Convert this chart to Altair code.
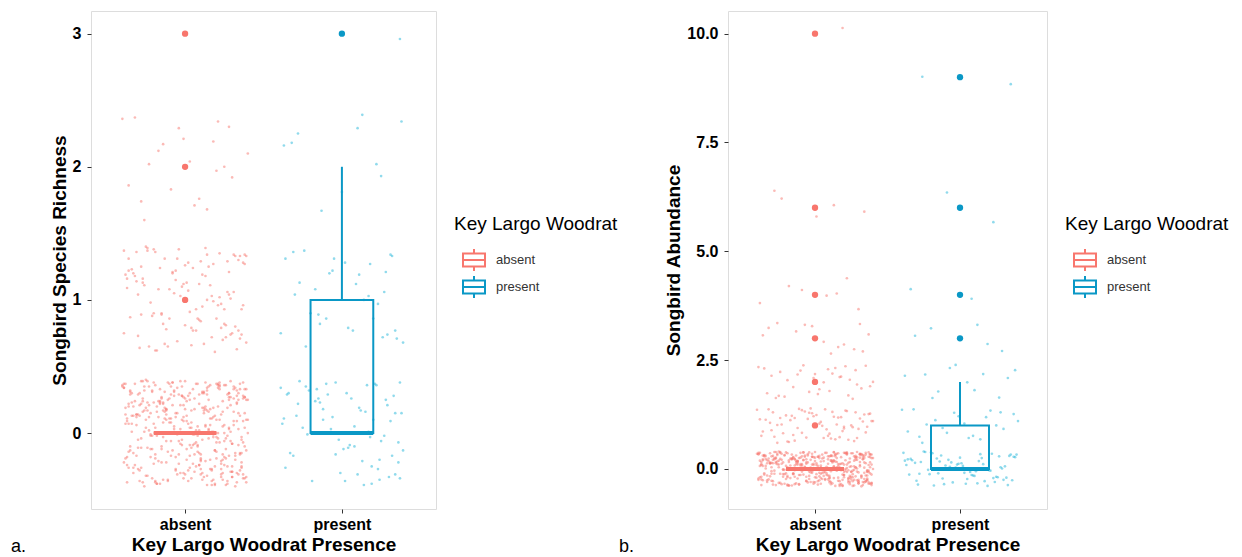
import altair as alt
import numpy as np
import pandas as pd

GROUPS = ["absent", "present"]
BOX_COLORS = ["#F8766D", "#0A98C6"]
POINT_COLORS = ["#F8766D", "#22B5DA"]
LEGEND_TITLE = "Key Largo Woodrat"

# Panel a: songbird species richness (value -> number of sites)
rich_values_absent = [0, 1, 2, 3]
rich_counts_absent = [430, 120, 22, 1]
rich_values_present = [0, 1, 2, 3]
rich_counts_present = [72, 34, 10, 1]

# Panel b: songbird abundance (value -> number of sites)
abund_values_absent = [0, 1, 2, 3, 4, 6, 10]
abund_counts_absent = [430, 72, 35, 14, 7, 5, 1]
abund_values_present = [0, 1, 2, 3, 4, 6, 9]
abund_counts_present = [72, 22, 12, 5, 2, 2, 2]

x_tick_labels = ["absent", "present"]
rich_ticks = [0, 1, 2, 3]
abund_ticks = [0, 2.5, 5, 7.5, 10]

# jitter offsets read as hundredths of a unit (±0.4 in x and y)
JX = [
    -31, 12, 38, -7, 25, -19, 3, -36, 17, 29, -24, 8, -2, 33, -13, 21, -38, 5, 14, -28,
    36, -10, -33, 19, 1, -22, 27, 10, -39, -5, 31, -16, 23, -27, 7, 39, -11, 16, -35, 0,
    -20, 26, -3, 34, -30, 13, -15, 22, 4, -37, 18, -8, 30, -25, 9, -1, 37, -18, 28, -12,
    11, -34, 24, -6, 35, -21, 2, -29, 15, 32, -14, 20, -40, 6, -23, 28, -9, 40, -26, 18,
    -4, 30, -17, 9, -32, 25, 14, -1, -36, 21, 3, -28, 37, -12, 16, -19, 33, -7, 10, -38,
    27, -24, 5, 38, -15, -3, 19, -31, 12, 29, -20, 8, -34, 23, -9, 35, -26, 1, 17, -11,
    39, -6, 22, -30, 13, -18, 31, -2, 26, -37, 7, 15, -22, 34, -14, 4, -29, 20, -5, 11,
    -16, 36, -27, 0, 24, -35, 10, 18, -8, 32, -21, 28, -1, -33, 14, 38, -12, 6, -25, 21,
    3, -39, 17, 29, -10, 23, -19, 35, -4, 12, -30, 26, 9, -15, 40, -24, 2, 31, -36, 16,
    -7, 20, -32, 11, 37, -13, 27, -26, 6, -2, 33, -18, 15, -38, 22, 8, -9, 30, -23, 13,
    34, -28, 1, 19, -11, 39, -34, 24, -5, 10, -20, 28, -35, 4, 17, -14, 36, -1, 25, -31,
    -12, 7, 31, -21, 14, -37, 22, 0, -16, 38, -8, 26, -29, 12, 33, -4, 18, -25, 9, 35,
    -33, 16, -3, 27, -18, 5, 37, -27, 20, -10, 29, -39, 13, 2, -22, 32, -6, 23, -14, 40,
    8, -24, 30, -36, 18, -1, 11, -30, 35, -17, 24, -9, 39, -26, 6, -13, 28, -32, 15, -3,
    21, -15, 36, -8, 3, -23, 32, 14, -34, 25, -19, 9, -28, 37, -11, 19, -38, 1, 30, -21,
    -27, 38, -12, 22, -40, 10, 27, -5, 16, -30, 34, -16, 6, -25, 23, 13, -2, 31, -19, 4,
    26, -35, 9, -14, 33, -3, 20, -22, 39, -9, 12, -33, 28, 0, -18, 36, -29, 17, -7, 24,
    -2, 15, -26, 35, -13, 29, -37, 7, 21, -11, 38, -20, 3, 30, -31, 11, -24, 25, -6, 33,
    13, -29, 37, -4, 18, -17, 4, -39, 31, 24, -12, 17, -36, 22, -1, 34, -15, 8, -27, 19,
    -38, 23, -9, 11, 30, -25, 16, 36, -6, -21, 5, 32, -14, 27, -34, 2, 20, -10, 39, -18,
    6, -31, 25, -16, 38, 14, -28, 1, 33, -7, 19, -23, 10, -37, 29, -2, 24, -35, 12, 37,
    -22, 3, 34, -12, 21, -33, 8, 28, -19, 15, -4, 36, -27, 18, 7, -30, 31, -15, 26, -8,
    32, -20, 11, -39, 27, 2, -14, 23, -31, 39, -6, 9, 20, -24, 35, -17, 4, -36, 14, 29,
    -10, 28, -23, 17, -5, 34, -37, 13, 25, -28, 0, 38, -13, 22, -32, 10, 37, -19, 5, -26,
]
JY = [
    14, -33, 27, 5, -18, 36, -9, 22, -28, 1, 39, -14, 10, -37, 31, -4, 19, -23, 34, -11,
    -26, 8, 20, -39, 13, -2, 29, -16, 37, -31, 6, 24, -21, 16, -7, 33, -35, 11, -13, 26,
    38, -19, 3, 30, -27, 18, -10, 35, -34, 9, -1, 21, -25, 40, -15, 12, 28, -38, 4, -22,
    -5, 23, -30, 15, 33, -12, 7, -36, 25, -20, 17, -3, 36, -29, 2, 30, -17, 10, -40, 19,
    29, -8, 12, -24, 37, 0, -32, 21, -14, 34, 4, -26, 26, -6, 18, -37, 9, 32, -19, 14,
    -36, 17, -1, 27, -22, 39, -13, 6, 31, -29, 23, -9, 13, -33, 35, -16, 1, 24, -27, 38,
    10, -28, 33, -11, 20, -38, 16, 28, -4, -24, 37, 2, -18, 25, -35, 8, 30, -7, 15, -30,
    22, -3, -37, 18, 5, 31, -21, 12, 38, -15, -34, 27, 9, -26, 32, -10, 17, -1, -32, 36,
    -17, 34, 11, -6, 26, -31, 4, 37, -23, 19, 14, -39, 29, -12, 0, 23, -28, 33, 7, -20,
    31, -14, 24, -35, 9, 16, -25, 35, -8, 28, -30, 20, 3, -19, 38, -2, 11, -33, 21, 6,
    -9, 39, -20, 13, -36, 25, 1, -16, 34, -27, 7, 30, -10, 17, -39, 22, -5, 27, -24, 12,
    18, -25, 35, -2, 29, -18, 10, -31, 23, 4, -13, 36, -28, 15, 32, -6, -35, 19, 2, -15,
    -30, 6, 21, -38, 16, 33, -7, 26, -19, 11, 39, -22, 5, 28, -12, 34, -27, 14, -3, 25,
    37, -11, -29, 20, 1, -34, 30, -5, 13, -21, 24, 8, -37, 32, -16, 19, 3, -24, 35, -8,
    0, 27, -15, 38, -26, 12, -40, 17, 7, 36, -19, 22, -4, -31, 25, -13, 37, 9, -29, 31,
    24, -34, 14, -7, 35, -20, 19, -1, -27, 29, 3, -38, 18, 10, -23, 38, -9, 26, -16, 4,
    -12, 32, -24, 8, 23, -30, 37, 15, -33, -6, 30, 13, -17, 39, -2, -25, 21, -36, 28, 16,
    35, -4, 17, -28, 11, 27, -37, 2, 20, -14, 33, -23, 25, -8, 14, 31, -32, 6, -18, 22,
    -21, 13, 38, -16, -3, 24, -11, 34, 9, -35, 18, 1, -26, 36, -30, 15, 26, -10, 39, -38,
    7, -27, 29, 19, -33, 4, 36, -22, 12, 32, -9, -17, 23, -2, 30, -36, 10, 37, -13, 0,
    26, -17, -6, 33, 15, -39, 22, -12, 28, 3, -25, 35, -31, 11, 21, -5, -20, 29, 17, -34,
    -1, 30, -31, 10, 37, -15, 5, 25, -36, 16, 38, -7, 13, 27, -23, 4, 34, -11, -28, 20,
    33, -10, 19, -25, 6, 28, -18, -3, 36, -32, 22, 12, -14, 37, -29, 8, -21, 31, 0, -26,
    -14, 21, -35, 3, 31, -23, 16, 39, -7, 25, -19, 34, -33, 2, 18, 29, -4, -38, 24, 11,
]

FONT = "Liberation Sans"
BOX_GLYPH = "M-1,-0.6L1,-0.6L1,0.6L-1,0.6Z M-1,0L1,0 M0,-0.6L0,-1 M0,0.6L0,1"


def build_legend(lx):
    """Legend drawn as marks: title, box-plot glyphs and labels."""
    layers = [
        alt.Chart(pd.DataFrame({"t": [LEGEND_TITLE]})).mark_text(
            align="left", baseline="middle", fontSize=19, font=FONT, color="black"
        ).encode(text="t:N", x=alt.value(lx), y=alt.value(213))
    ]
    for gi, g in enumerate(GROUPS):
        row_y = 249 + 27 * gi
        gdf = pd.DataFrame({"t": [g]})
        layers.append(alt.Chart(gdf).mark_point(
            shape=BOX_GLYPH, size=484, filled=False, strokeWidth=2, opacity=1,
            color=BOX_COLORS[gi]
        ).encode(x=alt.value(lx + 20), y=alt.value(row_y)))
        layers.append(alt.Chart(gdf).mark_text(
            align="left", baseline="middle", fontSize=13, font=FONT, color="#333333"
        ).encode(text="t:N", x=alt.value(lx + 42), y=alt.value(row_y)))
    return layers


def build_panel(values, counts, starts, ydomain, yticks, yfmt, ytitle,
                width, letter, letter_x, legend_x):
    pts, boxes, outs = [], [], []
    for gi, g in enumerate(GROUPS):
        vals = np.repeat(np.array(values[gi], dtype=float), counts[gi])
        for k, v in enumerate(vals):
            j = (starts[gi] + k) % len(JX)
            pts.append({"pgroup": g, "x": gi + 1 + JX[j] / 100.0, "y": v + JY[j] / 100.0})
        q1, med, q3 = np.percentile(vals, [25, 50, 75])
        iqr = q3 - q1
        hi_lim, lo_lim = q3 + 1.5 * iqr, q1 - 1.5 * iqr
        whi = vals[vals <= hi_lim].max()
        wlo = vals[vals >= lo_lim].min()
        boxes.append({"group": g, "xi": gi + 1, "xlo": gi + 0.8, "xhi": gi + 1.2,
                      "q1": q1, "med": med, "q3": q3, "whi": whi, "wlo": wlo})
        for o in sorted(set(vals[(vals > hi_lim) | (vals < lo_lim)])):
            outs.append({"ogroup": g, "xi": gi + 1, "v": o})
    pts_df, box_df, out_df = pd.DataFrame(pts), pd.DataFrame(boxes), pd.DataFrame(outs)

    xscale = alt.Scale(domain=[0.4, 2.6], nice=False, zero=False)
    yscale = alt.Scale(domain=ydomain, nice=False, zero=False)
    xaxis = alt.Axis(values=[1, 2],
                     labelExpr="datum.value == 1 ? '%s' : '%s'" % tuple(x_tick_labels),
                     grid=False, domain=False, tickColor="#333333", tickSize=4,
                     labelFontSize=16, labelFontWeight="bold", labelColor="black",
                     labelPadding=3, titleFontSize=19, titleFontWeight="bold",
                     titleColor="black", titlePadding=3, labelFont=FONT, titleFont=FONT)
    yaxis = alt.Axis(values=yticks, format=yfmt, grid=False, domain=False,
                     tickColor="#333333", tickSize=4, labelFontSize=16,
                     labelFontWeight="bold", labelColor="black", labelPadding=6,
                     titleFontSize=19, titleFontWeight="bold", titleColor="black",
                     titlePadding=3, labelFont=FONT, titleFont=FONT)
    sscale = alt.Scale(domain=GROUPS, range=BOX_COLORS)

    points = alt.Chart(pts_df).mark_circle(size=7, opacity=0.5, clip=True).encode(
        x=alt.X("x:Q", scale=xscale, axis=xaxis, title="Key Largo Woodrat Presence"),
        y=alt.Y("y:Q", scale=yscale, axis=yaxis, title=ytitle),
        color=alt.Color("pgroup:N", scale=alt.Scale(domain=GROUPS, range=POINT_COLORS), legend=None),
    )
    box = alt.Chart(box_df).mark_rect(fillOpacity=0, strokeWidth=2).encode(
        x="xlo:Q", x2="xhi:Q", y="q1:Q", y2="q3:Q",
        stroke=alt.Stroke("group:N", scale=sscale, legend=None),
    )
    whisk_hi = alt.Chart(box_df).mark_rule(strokeWidth=2).encode(
        x="xi:Q", y="q3:Q", y2="whi:Q",
        stroke=alt.Stroke("group:N", scale=sscale, legend=None),
    )
    whisk_lo = alt.Chart(box_df).mark_rule(strokeWidth=2).encode(
        x="xi:Q", y="wlo:Q", y2="q1:Q",
        stroke=alt.Stroke("group:N", scale=sscale, legend=None),
    )
    median = alt.Chart(box_df).mark_rule(strokeWidth=4).encode(
        x="xlo:Q", x2="xhi:Q", y="med:Q",
        stroke=alt.Stroke("group:N", scale=sscale, legend=None),
    )
    outliers = alt.Chart(out_df).mark_circle(size=40, opacity=1).encode(
        x="xi:Q", y="v:Q",
        fill=alt.Fill("ogroup:N", scale=sscale, legend=None),
    )
    tag = alt.Chart(pd.DataFrame({"t": [letter]})).mark_text(
        align="left", baseline="middle", fontSize=18, font=FONT, color="black"
    ).encode(text="t:N", x=alt.value(letter_x), y=alt.value(536))

    return alt.layer(points, box, whisk_hi, whisk_lo, median, outliers, tag,
                     *build_legend(legend_x)).properties(width=width, height=498)


panel_a = build_panel([rich_values_absent, rich_values_present],
                      [rich_counts_absent, rich_counts_present],
                      [0, 360], [-0.57, 3.17], rich_ticks, "d",
                      "Songbird Species Richness", 345, "a.", -80, 363)
panel_b = build_panel([abund_values_absent, abund_values_present],
                      [abund_counts_absent, abund_counts_present],
                      [120, 0], [-0.92, 10.52], abund_ticks, ".1f",
                      "Songbird Abundance", 319, "b.", -109, 337)

chart = alt.hconcat(panel_a, panel_b, spacing=0).resolve_scale(
    color="independent", stroke="independent", fill="independent", y="independent", x="independent"
).properties(
    padding={"left": 2, "top": 2, "right": 2, "bottom": 0}
).configure_view(stroke="#666666", strokeWidth=1.5).configure(font=FONT, background="white")

chart.save("out.html", embed_options={"renderer": "svg", "actions": False})
